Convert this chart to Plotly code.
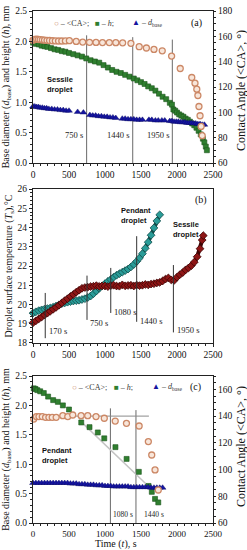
import plotly.graph_objects as go

SERIF = "Liberation Serif"
SANS = "Liberation Sans"

# ---------------- Panel (a): sessile droplet ----------------
a_ca_t = [0, 25, 50, 75, 100, 130, 160, 195, 230, 270, 310, 355, 400, 450, 505, 600, 690, 785, 875, 965,
          1060, 1150, 1245, 1360, 1475, 1575, 1680, 1795, 1925, 2045, 2205, 2250, 2275, 2290, 2305, 2320, 2335, 2350]
a_ca = [157.0, 157.6, 157.8, 157.6, 157.4, 157.2, 157.0, 156.8, 156.7, 156.5, 156.4, 156.3, 156.3, 156.4, 156.6,
        156.0, 155.5, 155.3, 155.2, 155.1, 155.1, 155.0, 154.9, 154.5, 151.8, 150.8, 149.7, 148.6, 144.4, 134.6,
        127.5, 123.0, 118.3, 113.3, 104.6, 97.3, 88.9, 81.6]

a_h_t = [0, 40, 80, 120, 160, 200, 250, 300, 350, 400, 450, 500, 560, 620, 680, 740, 800, 860, 920, 980,
         1040, 1100, 1160, 1220, 1280, 1340, 1400, 1450, 1500, 1550, 1600, 1650, 1700, 1750, 1800, 1850, 1900,
         1930, 1950, 1975, 2000, 2030, 2060, 2090, 2120, 2150, 2180, 2210, 2240, 2270, 2300, 2330, 2360, 2380,
         2400, 2415]
a_h = [1.98, 1.96, 1.95, 1.93, 1.92, 1.91, 1.89, 1.87, 1.86, 1.84, 1.83, 1.81, 1.79, 1.77, 1.75, 1.72, 1.69,
       1.67, 1.65, 1.61, 1.57, 1.53, 1.50, 1.48, 1.45, 1.42, 1.39, 1.36, 1.33, 1.30, 1.26, 1.23, 1.19, 1.14,
       1.09, 1.05, 0.99, 0.96, 0.88, 0.86, 0.83, 0.80, 0.78, 0.76, 0.73, 0.71, 0.68, 0.65, 0.62, 0.58, 0.53,
       0.47, 0.40, 0.34, 0.27, 0.21]

a_d_t = [0, 25, 50, 75, 100, 130, 160, 190, 220, 260, 300, 340, 380, 420, 460, 500, 620, 700, 790, 830, 870,
         910, 950, 990, 1030, 1070, 1110, 1150, 1240, 1280, 1320, 1360, 1400, 1440, 1480, 1520, 1610, 1650,
         1700, 1740, 1790, 1830, 1900, 1930, 1960, 1990, 2020, 2050, 2080, 2110, 2140, 2170, 2200, 2230, 2260,
         2290, 2320, 2350, 2380]
a_d = [0.93, 0.93, 0.92, 0.92, 0.91, 0.91, 0.90, 0.90, 0.89, 0.89, 0.88, 0.88, 0.87, 0.87, 0.86, 0.86, 0.84,
       0.83, 0.79, 0.78, 0.78, 0.77, 0.77, 0.76, 0.76, 0.75, 0.75, 0.74, 0.73, 0.73, 0.72, 0.72, 0.72, 0.71,
       0.71, 0.71, 0.71, 0.71, 0.70, 0.70, 0.70, 0.70, 0.69, 0.69, 0.68, 0.68, 0.68, 0.67, 0.67, 0.67, 0.66,
       0.66, 0.66, 0.65, 0.65, 0.64, 0.64, 0.63, 0.63]

a_event_t = [745, 1385, 1935]
a_event_top = [2.10, 2.07, 2.03]
a_event_labels = ["750 s", "1440 s", "1950 s"]

# ---------------- Panel (b): surface temperature ----------------
b_pend_t = [0, 40, 80, 120, 160, 200, 240, 280, 320, 360, 400, 440, 480, 520, 560, 600, 640, 680, 720, 760,
            800, 840, 880, 920, 960, 1000, 1040, 1080, 1120, 1160, 1200, 1240, 1280, 1320, 1360, 1400, 1440,
            1480, 1520, 1560, 1600, 1640, 1680, 1720, 1760]
b_pend = [19.55, 19.62, 19.68, 19.72, 19.76, 19.79, 19.82, 19.86, 19.92, 19.98, 20.04, 20.08, 20.12, 20.15,
          20.18, 20.20, 20.22, 20.26, 20.30, 20.36, 20.44, 20.56, 20.70, 20.84, 20.96, 21.08, 21.20, 21.30,
          21.42, 21.52, 21.60, 21.68, 21.76, 21.84, 21.95, 22.08, 22.24, 22.42, 22.64, 22.92, 23.24, 23.60,
          23.98, 24.34, 24.66]

b_sess_t = [0, 40, 80, 120, 160, 200, 240, 280, 320, 360, 400, 440, 480, 520, 560, 600, 640, 680, 720, 760,
            800, 840, 880, 920, 960, 1000, 1040, 1080, 1120, 1160, 1200, 1240, 1280, 1320, 1360, 1400, 1440,
            1480, 1520, 1560, 1600, 1640, 1680, 1720, 1760, 1800, 1840, 1880, 1920, 1960, 2000, 2040, 2080,
            2120, 2160, 2200, 2240, 2280, 2320, 2350, 2365]
b_sess = [19.05, 19.15, 19.25, 19.35, 19.45, 19.55, 19.65, 19.75, 19.85, 19.96, 20.08, 20.20, 20.30, 20.42,
          20.52, 20.64, 20.74, 20.84, 20.88, 20.90, 20.93, 20.95, 20.98, 20.94, 20.97, 20.96, 20.93, 20.98,
          21.00, 20.96, 20.95, 21.02, 20.97, 20.99, 21.00, 20.96, 21.01, 20.98, 21.00, 21.04, 21.02, 21.06,
          21.08, 21.12, 21.15, 21.22, 21.32, 21.38, 21.28, 21.25, 21.42, 21.55, 21.66, 21.80, 21.90, 22.02,
          22.20, 22.48, 22.90, 23.35, 23.58]

b_event_t = [170, 750, 1080, 1440, 1950]
b_event_top = [20.6, 21.5, 21.9, 23.55, 22.05]
b_event_bottom = [18.25, 19.2, 19.56, 19.1, 18.55]
b_event_label_y = [18.62, 19.05, 19.62, 19.12, 18.66]
b_event_labels = ["170 s", "750 s", "1080 s", "1440 s", "1950 s"]

# ---------------- Panel (c): pendant droplet ----------------
c_ca_t = [10, 47, 83, 129, 175, 221, 267, 322, 414, 483, 552, 668, 760, 875, 990, 1142, 1298, 1474, 1602,
          1649, 1695, 1740]
c_ca = [137.8, 139.6, 139.6, 139.6, 139.1, 139.1, 139.1, 139.1, 140.3, 139.6, 140.8, 140.3, 140.3, 139.6,
        138.4, 136.3, 134.6, 132.6, 120.9, 110.9, 99.7, 84.7]

c_h_t = [10, 35, 60, 100, 150, 210, 280, 345, 415, 500, 670, 785, 900, 990, 1145, 1300, 1470, 1605, 1650,
         1695, 1740]
c_h = [2.29, 2.28, 2.26, 2.24, 2.21, 2.15, 2.09, 2.06, 2.00, 1.93, 1.71, 1.63, 1.54, 1.44, 1.29, 1.09, 0.87,
       0.63, 0.53, 0.41, 0.35]

c_d_t = [0, 40, 80, 120, 160, 200, 240, 280, 320, 360, 400, 440, 480, 520, 560, 600, 640, 680, 720, 760, 800,
         840, 880, 920, 960, 1000, 1040, 1080, 1120, 1160, 1200, 1240, 1280, 1320, 1360, 1400, 1440, 1480,
         1520, 1560, 1600, 1640, 1680, 1720, 1760, 1800]
c_d = [0.68, 0.68, 0.68, 0.68, 0.68, 0.68, 0.68, 0.68, 0.68, 0.68, 0.68, 0.68, 0.68, 0.67, 0.67, 0.67, 0.66,
       0.66, 0.66, 0.65, 0.65, 0.65, 0.64, 0.64, 0.64, 0.63, 0.63, 0.63, 0.62, 0.62, 0.62, 0.62, 0.62, 0.62,
       0.61, 0.61, 0.61, 0.61, 0.61, 0.61, 0.61, 0.60, 0.60, 0.60, 0.60, 0.60]

c_fit_t = [645, 1600]
c_fit_h = [1.75, 0.63]
c_ref_t = [0, 1610]
c_ref_ca = [140, 140]

c_event_t = [1075, 1430]
c_event_top = [1.95, 1.92]
c_event_labels = ["1080 s", "1440 s"]

# ---------------- styles ----------------
ORANGE_EDGE = "#cc8866"
ORANGE_FILL = "#f8e6da"
GREEN = "#2f7f2f"
GREEN_EDGE = "#1c561c"
BLUE = "#1414a0"
TEAL = "#2a9c98"
TEAL_EDGE = "#124c4a"
RED = "#8e1616"
RED_EDGE = "#3d0505"

circ = dict(symbol="circle", size=6, color=ORANGE_FILL, line=dict(color=ORANGE_EDGE, width=1.3))
sq = dict(symbol="square", size=5, color=GREEN, line=dict(color=GREEN_EDGE, width=0.6))
tri = dict(symbol="triangle-up", size=6, color=BLUE, line=dict(color="#0a0a60", width=0.4))

fig = go.Figure()

# panel a
fig.add_trace(go.Scatter(x=a_h_t, y=a_h, mode="markers", marker=sq, xaxis="x", yaxis="y", cliponaxis=False))
fig.add_trace(go.Scatter(x=a_d_t, y=a_d, mode="markers", marker=tri, xaxis="x", yaxis="y", cliponaxis=False))
fig.add_trace(go.Scatter(x=a_ca_t, y=a_ca, mode="markers", marker=circ, xaxis="x", yaxis="y2", cliponaxis=False))

# panel b
fig.add_trace(go.Scatter(x=b_pend_t, y=b_pend, mode="lines+markers", xaxis="x2", yaxis="y3",
                         line=dict(color=TEAL_EDGE, width=4),
                         marker=dict(symbol="diamond", size=6, color=TEAL, line=dict(color=TEAL_EDGE, width=0.8)),
                         cliponaxis=False))
fig.add_trace(go.Scatter(x=b_sess_t, y=b_sess, mode="lines+markers", xaxis="x2", yaxis="y3",
                         line=dict(color=RED_EDGE, width=4),
                         marker=dict(symbol="diamond", size=6, color=RED, line=dict(color=RED_EDGE, width=0.8)),
                         cliponaxis=False))

# panel c
fig.add_trace(go.Scatter(x=c_fit_t, y=c_fit_h, mode="lines", line=dict(color="#c4c4c4", width=1.5),
                         xaxis="x3", yaxis="y4"))
fig.add_trace(go.Scatter(x=c_h_t, y=c_h, mode="markers", marker=sq, xaxis="x3", yaxis="y4", cliponaxis=False))
fig.add_trace(go.Scatter(x=c_d_t, y=c_d, mode="markers", marker=tri, xaxis="x3", yaxis="y4", cliponaxis=False))
fig.add_trace(go.Scatter(x=c_ref_t, y=c_ref_ca, mode="lines", line=dict(color="#8a8a8a", width=1),
                         xaxis="x3", yaxis="y5"))
fig.add_trace(go.Scatter(x=c_ca_t, y=c_ca, mode="markers", marker=circ, xaxis="x3", yaxis="y5", cliponaxis=False))

shapes = []
ann = []

# event lines a
for t, top, lab in zip(a_event_t, a_event_top, a_event_labels):
    shapes.append(dict(type="line", xref="x", yref="y", x0=t, x1=t, y0=0, y1=top,
                       line=dict(color="#6a6a6a", width=1), layer="below"))
    ann.append(dict(xref="x", yref="y", x=t - 25, y=0.46, text=lab, showarrow=False, xanchor="right",
                    yanchor="middle", font=dict(family=SERIF, size=8.5, color="#222")))

# event lines b
for t, top, bot, ly, lab in zip(b_event_t, b_event_top, b_event_bottom, b_event_label_y, b_event_labels):
    shapes.append(dict(type="line", xref="x2", yref="y3", x0=t, x1=t, y0=bot, y1=top,
                       line=dict(color="#333333", width=1)))
    ann.append(dict(xref="x2", yref="y3", x=t + 20, y=ly, text=lab, showarrow=False, xanchor="left",
                    yanchor="middle", font=dict(family=SERIF, size=8.5, color="#222")))

# event lines c
for i, (t, top, lab) in enumerate(zip(c_event_t, c_event_top, c_event_labels)):
    shapes.append(dict(type="line", xref="x3", yref="y4", x0=t, x1=t, y0=0, y1=top,
                       line=dict(color="#6a6a6a", width=1), layer="below"))
    ann.append(dict(xref="x3", yref="y4", x=t + (10 if i == 0 else 90), y=0.15, text=lab, showarrow=False,
                    xanchor="left", yanchor="middle", font=dict(family=SERIF, size=7.5, color="#222")))


def legend(xr, yr, yv, xs):
    items = [
        f"<span style='color:{ORANGE_EDGE}'>○</span> – &lt;CA&gt;;",
        f"<span style='color:{GREEN}'>■</span> – <i>h</i>;",
        f"<span style='color:{BLUE}'>▲</span> – <i>d</i><sub>base</sub>",
    ]
    for x, txt in zip(xs, items):
        ann.append(dict(xref=xr, yref=yr, x=x, y=yv, text=txt, showarrow=False, xanchor="left",
                        yanchor="middle", font=dict(family=SERIF, size=8, color="#333")))


legend("x", "y", 2.30, [270, 830, 1350])
legend("x3", "y4", 2.31, [520, 1100, 1620])

ann.append(dict(xref="x", yref="y", x=2275, y=2.30, text="(a)", showarrow=False,
                font=dict(family=SERIF, size=10, color="#111")))
ann.append(dict(xref="x2", yref="y3", x=2330, y=25.45, text="(b)", showarrow=False,
                font=dict(family=SERIF, size=10, color="#111")))
ann.append(dict(xref="x3", yref="y4", x=2250, y=2.31, text="(c)", showarrow=False,
                font=dict(family=SERIF, size=10, color="#111")))

bold = dict(family=SANS, size=7.5, color="#111")
ann.append(dict(xref="x", yref="y", x=160, y=1.29, text="<b>Sessile<br>droplet</b>", showarrow=False,
                xanchor="left", align="left", font=bold))
ann.append(dict(xref="x2", yref="y3", x=1195, y=24.6, text="<b>Pendant<br>droplet</b>", showarrow=False,
                xanchor="left", align="left", font=bold))
ann.append(dict(xref="x2", yref="y3", x=1915, y=23.88, text="<b>Sessile<br>droplet</b>", showarrow=False,
                xanchor="left", align="left", font=bold))
ann.append(dict(xref="x3", yref="y4", x=95, y=1.14, text="<b>Pendant<br>droplet</b>", showarrow=False,
                xanchor="left", align="left", font=bold))

# right-hand axis titles and bottom axis title as positioned text
rtitle = dict(family=SERIF, size=12, color="#111")
ann.append(dict(xref="paper", yref="paper", x=1.155, y=0.8457, text="Contact Angle (&lt;CA&gt;, °)",
                textangle=-90, showarrow=False, xanchor="center", yanchor="middle", font=rtitle))
ann.append(dict(xref="paper", yref="paper", x=1.155, y=0.150, text="Contact Angle (&lt;CA&gt;, °)",
                textangle=-90, showarrow=False, xanchor="center", yanchor="middle", font=rtitle))
ann.append(dict(xref="paper", yref="paper", x=0.46, y=-0.0415, text="Time (<i>t</i>), s",
                showarrow=False, xanchor="center", yanchor="middle",
                font=dict(family=SERIF, size=10, color="#111")))

tickfont = dict(family=SERIF, size=9.5, color="#111")
rtickfont = dict(family=SERIF, size=9.5, color="#111")
titlefont = dict(family=SERIF, size=10, color="#111")

common = dict(showgrid=False, zeroline=False, showline=True, linecolor="#222", linewidth=1,
              ticks="outside", ticklen=3, tickwidth=1, tickcolor="#222", tickfont=tickfont,
              minor=dict(ticks="outside", ticklen=2, tickcolor="#222"))

xcommon = dict(common, range=[0, 2500], dtick=500, mirror=True)

fig.update_layout(
    width=247, height=550, template="none", showlegend=False,
    margin=dict(l=33, r=34, t=11, b=27),
    paper_bgcolor="white", plot_bgcolor="white",
    xaxis=dict(xcommon, anchor="y", domain=[0, 1]),
    yaxis=dict(common, domain=[0.7031, 1.0], anchor="x", range=[0, 2.5], dtick=0.5, tickformat=".1f",
               title=dict(text="Base diameter (<i>d</i><sub>base</sub>) and height (<i>h</i>), mm",
                          font=titlefont, standoff=3)),
    yaxis2=dict(common, overlaying="y", side="right", anchor="x", range=[60, 180], dtick=20,
                tickfont=rtickfont, ticklen=2),
    xaxis2=dict(xcommon, anchor="y3", domain=[0, 1]),
    yaxis3=dict(common, domain=[0.3516, 0.6523], anchor="x2", range=[18, 26], dtick=1, mirror=True,
                title=dict(text="Droplet surface temperature (<i>T</i><sub>s</sub>),°C",
                           font=titlefont, standoff=3)),
    xaxis3=dict(xcommon, anchor="y4", domain=[0, 1], tickfont=dict(family=SERIF, size=9, color="#111"),
                ticklen=2),
    yaxis4=dict(common, domain=[0, 0.2871], anchor="x3", range=[0, 2.5], dtick=0.5, tickformat=".1f",
                title=dict(text="Base diameter (<i>d</i><sub>base</sub>) and height (<i>h</i>), mm",
                           font=titlefont, standoff=3)),
    yaxis5=dict(common, overlaying="y4", side="right", anchor="x3", range=[60, 170], dtick=20,
                tickfont=rtickfont, ticklen=2),
    shapes=shapes,
    annotations=ann,
)

fig.write_html("out.html", config={"displayModeBar": False},
               post_script="document.body.style.margin='0';")
